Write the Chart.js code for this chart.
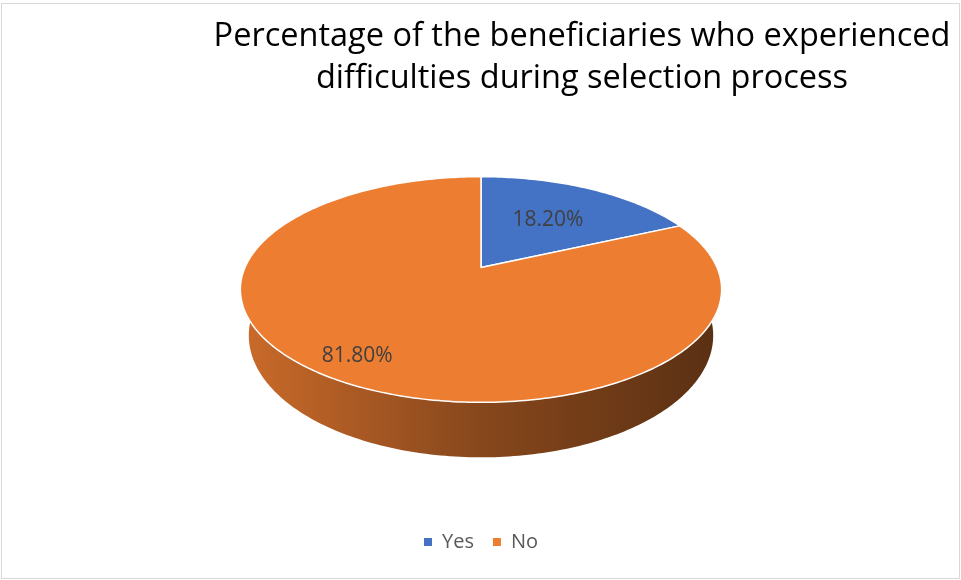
<!DOCTYPE html>
<html>
<head>
<meta charset="utf-8">
<script src="https://cdn.jsdelivr.net/npm/chart.js@4.4.1/dist/chart.umd.min.js"></script>
<style>
  html, body { margin: 0; padding: 0; background: #fff; overflow: hidden; }
  #frame {
    position: absolute; left: 1px; top: 3px;
    width: 957px; height: 574px;
    border: 1px solid #d9d9d9;
  }
  #title {
    position: absolute; left: 582px; top: 13px;
    transform: translateX(-50%);
    white-space: nowrap; text-align: center;
    font-family: "Open Sans", sans-serif; font-size: 32.5px; line-height: 42px;
    color: #000;
  }
  #chart { position: absolute; left: 0; top: 0; }
</style>
</head>
<body>
<div id="frame"></div>
<canvas id="chart" width="961" height="580"></canvas>
<div id="title">Percentage of the beneficiaries who experienced<br>difficulties during selection process</div>

<script>
// ── Données ──
const categories  = ['Yes', 'No'];
const percentages = [18.2, 81.8];
const sliceColors = ['#4472C4', '#ED7D31'];

// ── Vue 3D : le disque est incliné, la face arrière est plus petite ──
const TILT   = 0.195;  // force de la perspective
const SQUASH = 0.46;   // écrasement vertical du disque
const DEPTH  = 0.1875; // épaisseur du camembert (en rayons)
const SHRINK = 0.965;  // la base paraît un peu plus étroite

function shade(hex, f) {
    const n = parseInt(hex.slice(1), 16);
    const r = Math.round(((n >> 16) & 255) * f);
    const g = Math.round(((n >> 8) & 255) * f);
    const b = Math.round((n & 255) * f);
    return `rgb(${r},${g},${b})`;
}

function project(arc, angle, r, lower) {
    const o = arc.outerRadius * r;
    const u = Math.cos(angle), v = -Math.sin(angle);
    const den = 1 + TILT * v;
    const k = lower ? SHRINK : 1;
    return {
        x: arc.x + o * k * u / den,
        y: arc.y + ((lower ? arc.outerRadius * DEPTH : 0) - o * SQUASH * v) / den
    };
}

function edgePoints(arc, lower) {
    const { startAngle, endAngle } = arc;
    const n = Math.max(2, Math.ceil((endAngle - startAngle) / (Math.PI / 180)));
    const pts = [];
    for (let i = 0; i <= n; i++) {
        const a = startAngle + (endAngle - startAngle) * i / n;
        pts.push(project(arc, a, 1, lower));
    }
    return pts;
}

const pie3d = {
    id: 'pie3d',
    beforeDatasetDraw(chart, args, opts) {
        const ctx = chart.ctx;
        const arcs = args.meta.data;
        const colors = chart.data.datasets[args.index].backgroundColor;

        ctx.save();

        // parois latérales
        arcs.forEach((arc, i) => {
            const top = edgePoints(arc, false);
            const bottom = edgePoints(arc, true).reverse();
            const grad = ctx.createLinearGradient(arc.x - arc.outerRadius, 0, arc.x + arc.outerRadius, 0);
            grad.addColorStop(0, shade(colors[i], 0.85));
            grad.addColorStop(0.5, shade(colors[i], 0.57));
            grad.addColorStop(1, shade(colors[i], 0.38));
            ctx.beginPath();
            top.concat(bottom).forEach((p, j) => j ? ctx.lineTo(p.x, p.y) : ctx.moveTo(p.x, p.y));
            ctx.closePath();
            ctx.fillStyle = grad;
            ctx.fill();
        });

        // face supérieure
        arcs.forEach((arc, i) => {
            const pts = edgePoints(arc, false);
            ctx.beginPath();
            ctx.moveTo(arc.x, arc.y);
            pts.forEach(p => ctx.lineTo(p.x, p.y));
            ctx.closePath();
            ctx.fillStyle = colors[i];
            ctx.fill();
            ctx.lineJoin = 'round';
            ctx.lineWidth = 1.5;
            ctx.strokeStyle = '#ffffff';
            ctx.stroke();
        });

        // étiquettes de valeur
        ctx.font = '21px "Open Sans"';
        ctx.fillStyle = '#404040';
        ctx.textAlign = 'center';
        ctx.textBaseline = 'middle';
        arcs.forEach((arc, i) => {
            const mid = (arc.startAngle + arc.endAngle) / 2;
            const p = project(arc, mid, opts.labelRadius[i], false);
            ctx.fillText(percentages[i].toFixed(2) + '%', p.x, p.y);
        });

        ctx.restore();
        return false;
    }
};

function draw() {
    new Chart(document.getElementById('chart'), {
        type: 'pie',
        data: {
            labels: categories,
            datasets: [{
                data: percentages,
                backgroundColor: sliceColors,
                borderColor: '#ffffff',
                borderWidth: 0
            }]
        },
        options: {
            responsive: false,
            animation: false,
            layout: { padding: { left: 245, right: 244, top: 22, bottom: 18 } },
            plugins: {
                legend: {
                    position: 'bottom',
                    labels: {
                        boxWidth: 8,
                        boxHeight: 8,
                        padding: 19,
                        color: '#595959',
                        font: { family: 'Open Sans', size: 20 }
                    }
                },
                tooltip: { enabled: false },
                pie3d: { labelRadius: [0.61, 0.81] }
            }
        },
        plugins: [pie3d]
    });
}

document.fonts.load('21px "Open Sans"').then(draw, draw);
</script>
</body>
</html>
